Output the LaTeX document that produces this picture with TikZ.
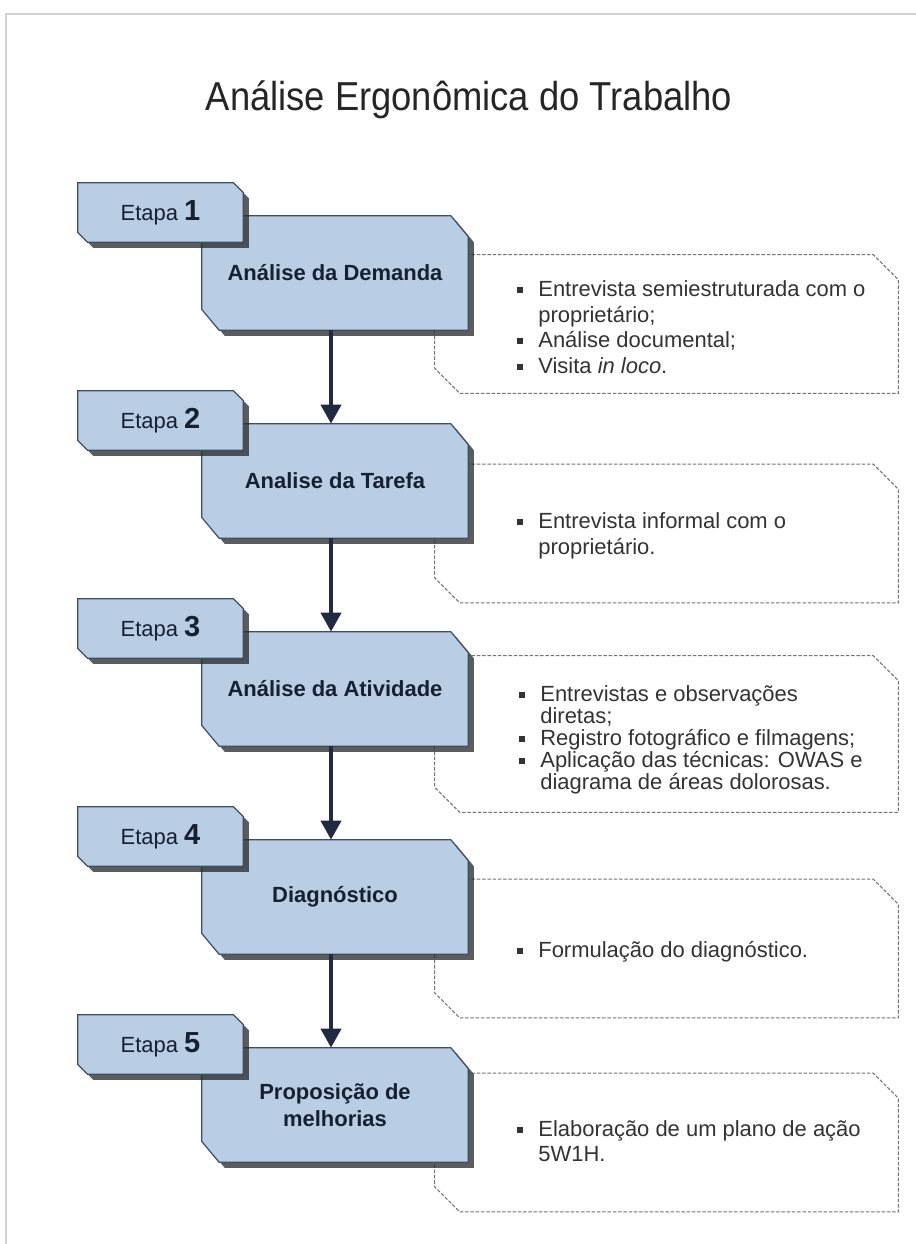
\documentclass[tikz,border=0pt]{standalone}
\usepackage{fontspec}
\setmainfont{Liberation Sans}
\newfontfamily\titlefont{Liberation Sans}[FakeStretch=0.9]
\usetikzlibrary{shadows,arrows.meta}
\definecolor{stepfill}{HTML}{B9CDE5}
\definecolor{stepline}{HTML}{3E4E66}
\definecolor{steptext}{HTML}{17202F}
\definecolor{flowcol}{HTML}{1E2B42}
\definecolor{notetext}{HTML}{333333}
\pgfdeclarelayer{background}
\pgfsetlayers{background,main}
\newcommand{\bul}{\makebox[0.42cm][l]{\rule[0.16em]{0.27em}{0.27em}}}
\newcommand{\ind}{\hspace*{0.42cm}}
\newcommand{\etnum}[1]{\fontsize{16.5}{16}\selectfont\bfseries #1}
% outline with the north east and south west corners cut off
\newcommand{\cutbox}[4][]{%
  \path[#1] (#2.north west) -- ([xshift=-#3]#2.north east) -- ([yshift=-#4]#2.north east)
    -- (#2.south east) -- ([xshift=#3]#2.south west) -- ([yshift=#4]#2.south west) -- cycle;}
\begin{document}
\begin{tikzpicture}
    [
    x=0.02cm, y=-0.02cm,
    stage/.style={rectangle,minimum width=5.32cm,minimum height=2.28cm,inner sep=0pt,
      align=center,text=steptext,font=\fontsize{12.5}{15.4}\selectfont\bfseries},
    etapa/.style={rectangle,minimum width=3.3cm,minimum height=1.18cm,inner sep=0pt,
      text=steptext,font=\fontsize{12.5}{15}\selectfont},
    notes/.style={rectangle,minimum width=9.26cm,minimum height=2.76cm,inner sep=0pt},
    items/.style={anchor=west,align=left,inner sep=0pt,text=notetext,font=\fontsize{12.5}{14.6}\selectfont},
    boxline/.style={draw=stepline,line width=0.7pt,fill=stepfill,
      drop shadow={shadow xshift=0.11cm,shadow yshift=-0.11cm,fill=black!85,opacity=0.75}},
    noteline/.style={draw=black!55,dash pattern=on 2pt off 1pt,line width=0.6pt,fill=white},
    flow/.style={-{Triangle[width=0.4cm,length=0.38cm]},line width=2.3pt,draw=flowcol}
    ]
    \useasboundingbox (0,0) rectangle (916,1244);
    \draw [gray!35, line width=0.6pt] (6,1244) -- (6,14) -- (916,14);
    \node (title) at (469,100) [font=\titlefont\fontsize{23}{27}\selectfont, text=black!85] {Análise Ergonômica do Trabalho};
    % note areas
    \node (d1) at (666.5,324) [notes] {};
    \node (d2) at (666.5,533.5) [notes] {};
    \node (d3) at (666.5,734) [notes, minimum height=3.12cm] {};
    \node (d4) at (666.5,948.5) [notes] {};
    \node (d5) at (666.5,1142.5) [notes] {};
    % stages
    \node (m1) at (335,273) [stage] {Análise da Demanda};
    \node (m2) at (335,481) [stage] {Analise da Tarefa};
    \node (m3) at (335,689) [stage] {Análise da Atividade};
    \node (m4) at (335,897) [stage] {Diagnóstico};
    \node (m5) at (335,1105) [stage] {Proposição de\\melhorias};
    \node (t1) at (160.5,212.5) [etapa] {Etapa \etnum{1}};
    \node (t2) at (160.5,420.5) [etapa] {Etapa \etnum{2}};
    \node (t3) at (160.5,628.5) [etapa] {Etapa \etnum{3}};
    \node (t4) at (160.5,836.5) [etapa] {Etapa \etnum{4}};
    \node (t5) at (160.5,1044.5) [etapa] {Etapa \etnum{5}};
    % bullet texts
    \node (n1) at (517,327) [items] {\bul Entrevista semiestruturada com o\\\ind proprietário;\\\bul Análise documental;\\\bul Visita \textit{in loco}.};
    \node (n2) at (517,536) [items] {\bul Entrevista informal com o\\\ind proprietário.};
    \node (n3) at (519,740) [items, font=\fontsize{12.5}{12.6}\selectfont] {\bul Entrevistas e observações\\\ind diretas;\\\bul Registro fotográfico e filmagens;\\\bul Aplicação das técnicas: OWAS e\\\ind diagrama de áreas dolorosas.};
    \node (n4) at (517,952) [items] {\bul Formulação do diagnóstico.};
    \node (n5) at (517,1141) [items] {\bul Elaboração de um plano de ação\\\ind 5W1H.};
    % outlines, back to front
    \begin{pgfonlayer}{background}
      \cutbox[noteline]{d1}{0.5cm}{0.5cm}
      \cutbox[noteline]{d2}{0.5cm}{0.5cm}
      \cutbox[noteline]{d3}{0.5cm}{0.5cm}
      \cutbox[noteline]{d4}{0.5cm}{0.5cm}
      \cutbox[noteline]{d5}{0.5cm}{0.5cm}
      \cutbox[boxline]{m1}{0.35cm}{0.42cm}
      \cutbox[boxline]{m2}{0.35cm}{0.42cm}
      \cutbox[boxline]{m3}{0.35cm}{0.42cm}
      \cutbox[boxline]{m4}{0.35cm}{0.42cm}
      \cutbox[boxline]{m5}{0.35cm}{0.42cm}
      \cutbox[boxline]{t1}{0.2cm}{0.2cm}
      \cutbox[boxline]{t2}{0.2cm}{0.2cm}
      \cutbox[boxline]{t3}{0.2cm}{0.2cm}
      \cutbox[boxline]{t4}{0.2cm}{0.2cm}
      \cutbox[boxline]{t5}{0.2cm}{0.2cm}
    \end{pgfonlayer}
    \draw [flow] ([xshift=-0.08cm]m1.south) to ([xshift=-0.08cm]m2.north);
    \draw [flow] ([xshift=-0.08cm]m2.south) to ([xshift=-0.08cm]m3.north);
    \draw [flow] ([xshift=-0.08cm]m3.south) to ([xshift=-0.08cm]m4.north);
    \draw [flow] ([xshift=-0.08cm]m4.south) to ([xshift=-0.08cm]m5.north);
\end{tikzpicture}
\end{document}
